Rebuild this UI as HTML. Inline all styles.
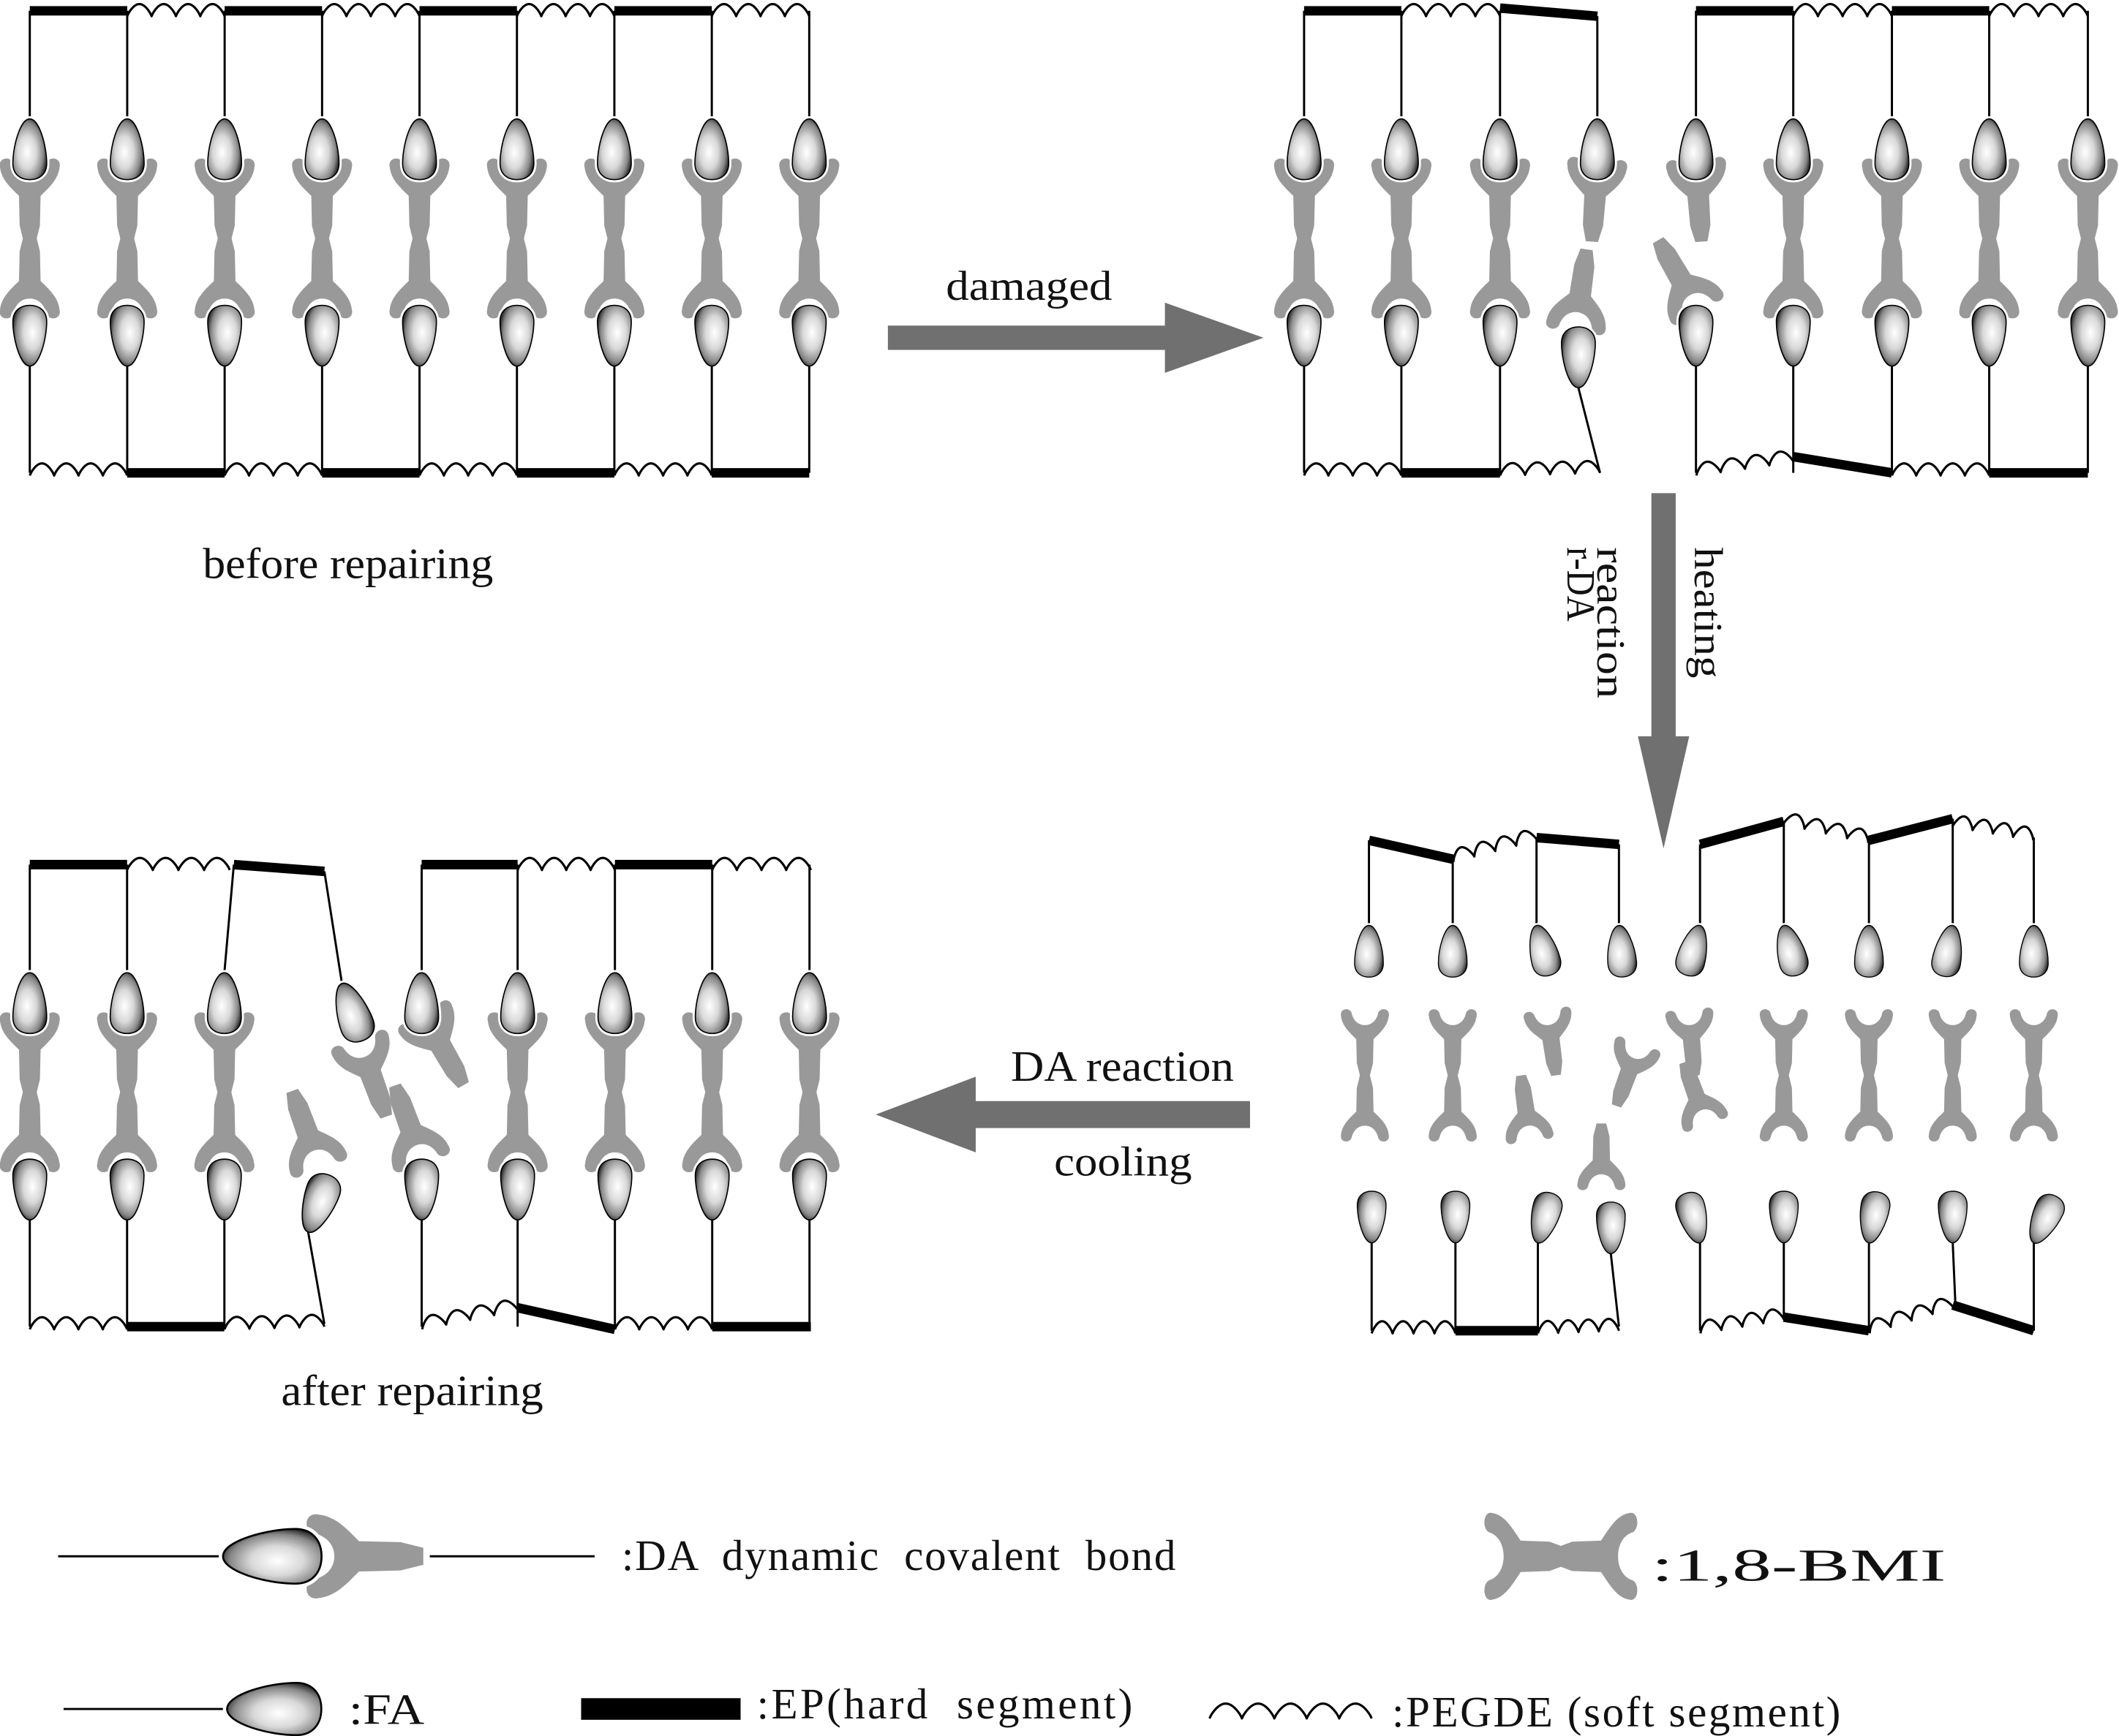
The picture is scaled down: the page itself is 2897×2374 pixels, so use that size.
<!DOCTYPE html>
<html><head><meta charset="utf-8"><style>
html,body{margin:0;padding:0;background:#fff}
svg{display:block}
text{font-family:"Liberation Serif",serif;fill:#111}
</style></head><body>
<svg id="s" width="2897" height="2374" viewBox="0 0 1568 1285" xmlns="http://www.w3.org/2000/svg" xmlns:xlink="http://www.w3.org/1999/xlink">
<defs>
<radialGradient id="eg" cx="0.42" cy="0.55" r="0.6">
<stop offset="0" stop-color="#ffffff"/><stop offset="0.45" stop-color="#d8d8d8"/><stop offset="0.8" stop-color="#888"/><stop offset="1" stop-color="#2a2a2a"/>
</radialGradient>
<g id="egg">
<path d="M0,0 C7,0 12.5,20 12.5,33 C12.5,41 7,45 0,45 C-7,45 -12.5,41 -12.5,33 C-12.5,20 -7,0 0,0Z" fill="none" stroke="#fff" stroke-width="4"/>
<path d="M0,0 C7,0 12.5,20 12.5,33 C12.5,41 7,45 0,45 C-7,45 -12.5,41 -12.5,33 C-12.5,20 -7,0 0,0Z" fill="url(#eg)" stroke="#000" stroke-width="0.9"/>
</g>
<path id="bmi" d="M-22,3 C-24,-5 -13,-6 -12,1 C-10,8 -5,11 0,11 C5,11 10,8 12,1 C13,-6 24,-5 22,3 C21,12 14,18 8,24 L7.5,46 L4.5,58 L-4.5,58 L-7.5,46 L-8,24 C-14,18 -21,12 -22,3Z" fill="#999"/>
</defs>
<g id="g" stroke-linecap="butt"></g>
<g id="t">
<text x="150" y="428" font-size="32" textLength="215" lengthAdjust="spacingAndGlyphs">before repairing</text>
<text x="700" y="222" font-size="31" textLength="123" lengthAdjust="spacingAndGlyphs">damaged</text>
<text x="748" y="800" font-size="32" textLength="165" lengthAdjust="spacingAndGlyphs">DA reaction</text>
<text x="780" y="870" font-size="31" textLength="102" lengthAdjust="spacingAndGlyphs">cooling</text>
<text x="208" y="1040" font-size="32" textLength="194" lengthAdjust="spacingAndGlyphs">after repairing</text>
<text transform="translate(1160,405) rotate(90)" font-size="30" textLength="55" lengthAdjust="spacingAndGlyphs">r-DA</text>
<text transform="translate(1182,405) rotate(90)" font-size="30" textLength="112" lengthAdjust="spacingAndGlyphs">reaction</text>
<text transform="translate(1254,405) rotate(90)" font-size="30" textLength="97" lengthAdjust="spacingAndGlyphs">heating</text>
<text x="460" y="1162" font-size="32" style="white-space:pre" textLength="410" lengthAdjust="spacing">:DA  dynamic  covalent  bond</text>
<text x="1222" y="1170" font-size="34" textLength="218" lengthAdjust="spacingAndGlyphs">:1,8-BMI</text>
<text x="258" y="1276" font-size="32" textLength="56" lengthAdjust="spacingAndGlyphs">:FA</text>
<text x="560" y="1272" font-size="32" style="white-space:pre" textLength="278" lengthAdjust="spacing">:EP(hard  segment)</text>
<text x="1030" y="1278" font-size="32" style="white-space:pre" textLength="332" lengthAdjust="spacing">:PEGDE (soft segment)</text>
</g>
</svg>
<script>
var G=document.getElementById('g'),NS="http://www.w3.org/2000/svg";
function el(t,a){var e=document.createElementNS(NS,t);for(var k in a){if(k=='href')e.setAttributeNS("http://www.w3.org/1999/xlink","xlink:href",a[k]);else e.setAttribute(k,a[k]);}G.appendChild(e);return e;}
function ln(x1,y1,x2,y2,w){el('line',{x1:x1,y1:y1,x2:x2,y2:y2,stroke:'#000','stroke-width':w||1.6});}
function hard(x1,y1,x2,y2){ln(x1,y1,x2,y2,7);}
function wave(x1,y1,x2,y2,n,a){n=n||4;a=a||9;var dx=x2-x1,dy=y2-y1,L=Math.hypot(dx,dy),nx=dy/L,ny=-dx/L,d='';var N=n*24;for(var i=0;i<=N;i++){var t=i/N,s=2-a*Math.pow(Math.abs(Math.sin(t*n*Math.PI)),0.8);var x=x1+dx*t-nx*s,y=y1+dy*t-ny*s;d+=(i?'L':'M')+x.toFixed(2)+','+y.toFixed(2);}el('path',{d:d,fill:'none',stroke:'#000','stroke-width':1.7,'stroke-linejoin':'round'});}
function egg(x,y,r,s){el('use',{href:'#egg',transform:'translate('+x+','+y+') rotate('+(r||0)+') scale('+(s||1)+')'});}
function bmi(x,y,r,s,s2){el('use',{href:'#bmi',transform:'translate('+x+','+y+') rotate('+(r||0)+') scale('+(s||1)+','+(s2||s||1)+')'});}
function unit(x,oy,tx){ln(tx||x,oy+8,x,oy+88);bmi(x,oy+121,0);bmi(x,oy+232,180);egg(x,oy+88,0);egg(x,oy+271,180);ln(x,oy+271,x,oy+350);}
// Panel 1
var c1=[];for(var i=0;i<9;i++)c1.push(22+i*72.1);
for(i=0;i<8;i++){if(i%2==0){hard(c1[i],8,c1[i+1],8);wave(c1[i],350,c1[i+1],350);}else{wave(c1[i],10,c1[i+1],10);hard(c1[i],350,c1[i+1],350);}}
c1.forEach(function(x){unit(x,0);});
// Arrows
el('path',{d:'M657,241 L862,241 L862,224 L935,250 L862,276 L862,259 L657,259Z',fill:'#707070'});
el('path',{d:'M1222,365 L1240,365 L1240,545 L1250,545 L1231,628 L1212,545 L1222,545Z',fill:'#707070'});
el('path',{d:'M925,815 L722,815 L722,797 L648,825 L722,853 L722,835 L925,835Z',fill:'#707070'});
// Panel 2
hard(965,8,1037,8);wave(1037,10,1110,10);hard(1110,6,1182,12);
hard(1255,8,1327,8);wave(1327,10,1400,10);hard(1400,8,1472,8);wave(1472,10,1545,10);
wave(965,350,1037,350);hard(1037,350,1110,350);wave(1110,350,1184,348);
wave(1255,350,1327,340);hard(1327,338,1400,350);wave(1400,350,1472,350);hard(1472,350,1545,350);
[965,1037,1110,1327,1400,1472,1545].forEach(function(x){unit(x,0);});
ln(1182,12,1182,88);bmi(1182,121,4);egg(1182,88,0);
bmi(1166,242,188);egg(1168,287,180);ln(1168,287,1184,350);
ln(1255,8,1255,88);bmi(1255,121,-4);egg(1255,88,0);
bmi(1256,228,150);egg(1255,271,180);ln(1255,271,1255,350);
// Panel 3
hard(1013,622,1075,636);wave(1075,636,1137,620);hard(1137,620,1198,625);
hard(1258,625,1320,608);wave(1320,608,1383,622);hard(1383,622,1445,606);wave(1445,610,1505,620);
var top3=[[1013,622,0],[1075,636,0],[1137,620,-15],[1198,625,-5],[1258,625,15],[1320,608,-15],[1383,622,0],[1445,606,10],[1505,620,0]];
top3.forEach(function(p){ln(p[0],p[1],p[0],685);egg(p[0],685,p[2],0.85);});
[[1010,0],[1075,0],[1320,0],[1383,0],[1445,0],[1505,0]].forEach(function(p){bmi(p[0],750,0,0.8);bmi(p[0],842,180,0.8);});
bmi(1145,750,-8,0.8);bmi(1132,842,172,0.8);
bmi(1212,775,20,0.8);bmi(1250,750,-5,0.8);bmi(1262,830,160,0.8);bmi(1185,878,180,0.8);
var bot3=[[1015,180],[1077,180],[1138,195],[1192,180],[1258,165],[1320,180],[1383,190],[1445,180],[1505,205]];
bot3.forEach(function(p){var y=p[0]==1192?928:920;egg(p[0],y,p[1],0.85);});
ln(1015,920,1015,985);ln(1077,920,1077,985);ln(1138,920,1138,985);ln(1192,928,1198,982);
ln(1258,920,1258,985);ln(1320,920,1320,975);ln(1383,920,1383,985);ln(1445,920,1447,966);ln(1505,920,1505,985);
wave(1015,985,1077,985);hard(1077,985,1138,985);wave(1138,985,1198,983);
wave(1258,985,1320,975);hard(1320,975,1383,985);wave(1383,985,1445,966);hard(1445,966,1505,985);
// Panel 4
var oy=632;
hard(22,640,94,640);wave(94,642,170,642);hard(173,640,240,645);
hard(312,640,383,640);wave(383,642,455,642);hard(455,640,527,640);wave(527,642,600,642);
wave(22,982,94,982);hard(94,982,166,982);wave(166,982,240,980);
wave(312,982,383,968);hard(383,968,455,984);wave(455,982,527,982);hard(527,982,600,982);
[22,94,383,455,527,599].forEach(function(x){unit(x,oy);});
unit(166,oy,173);
ln(240,645,253,728);bmi(266,772,-20);bmi(312,858,160);egg(253,728,-20);
ln(312,640,312,720);bmi(314,753,-30);egg(312,720,0);egg(312,903,180);ln(312,903,312,982);
bmi(236,862,160);egg(228,912,200);ln(228,912,240,980);
// Legend
ln(43,1152,168,1152);bmi(232,1152,-90,1.4);egg(165,1152,-90,1.62);ln(318,1152,440,1152);
bmi(1102,1152,-90,1.45,0.97);bmi(1208,1152,90,1.45,0.97);
ln(47,1265,168,1265);egg(168,1265,-90,1.55);
el('rect',{x:430,y:1257,width:118,height:16,fill:'#000'});
wave(895,1270,1015,1270,5,11);
</script>
</body></html>
